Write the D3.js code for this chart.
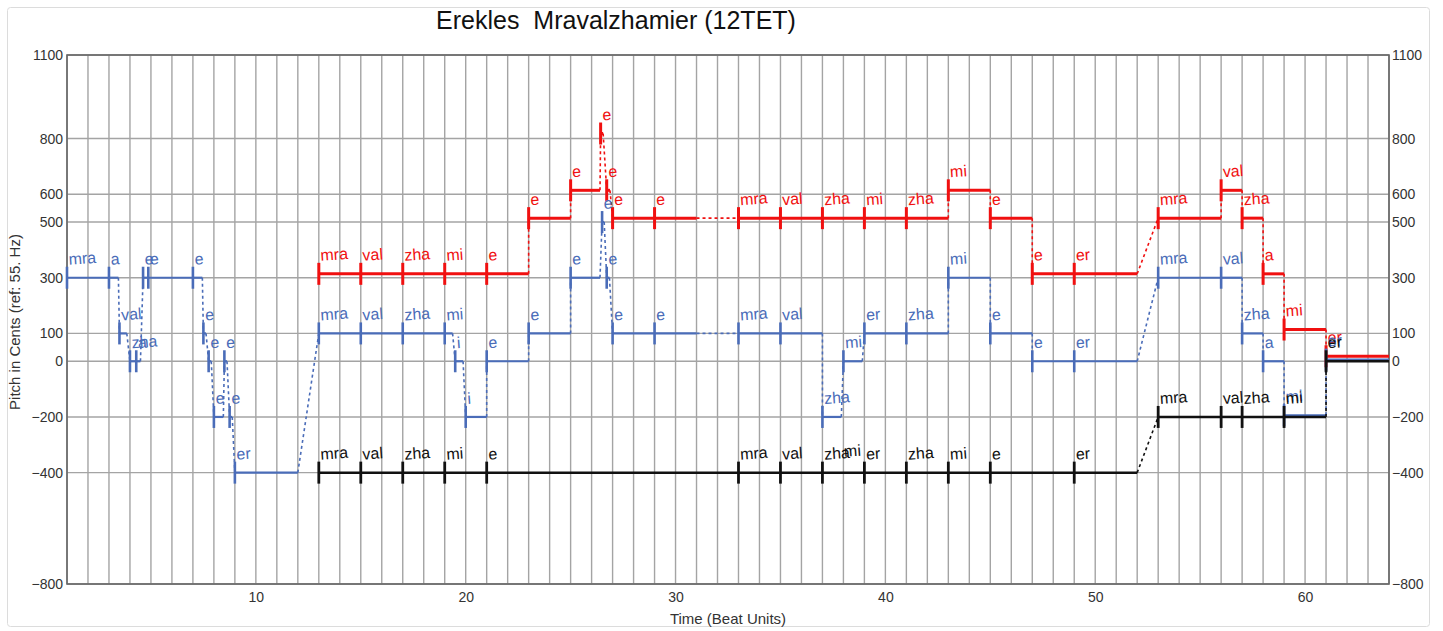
<!DOCTYPE html>
<html><head><meta charset="utf-8">
<script src="https://cdn.jsdelivr.net/npm/d3@7"></script>
<style>body{margin:0;background:#fff;} text{font-family:"Liberation Sans",Arial,sans-serif;}</style>
</head><body><svg id="c" width="1443" height="631"></svg>
<script>
const title = "Erekles  Mravalzhamier (12TET)";
const xLabel = "Time (Beat Units)";
const yLabel = "Pitch in Cents (ref: 55. Hz)";
const yTicks = [1100, 800, 600, 500, 300, 100, 0, -200, -400, -800];
const xTicks = [10, 20, 30, 40, 50, 60];
const beatRange = [1, 64];
const pitchRange = [-800, 1100];

// notes: [start beat, end beat, pitch in cents, syllable]
const blueNotes = [
  [1, 3, 300, "mra"], [3, 3.45, 300, "a"], [3.5, 3.85, 100, "val"],
  [4, 4.25, 0, "zha"], [4.3, 4.5, 0, "a"],
  [4.625, 4.85, 300, "e"], [4.875, 7, 300, "e"], [7, 7.45, 300, "e"],
  [7.5, 7.625, 100, "e"], [7.75, 7.875, 0, "e"], [8, 8.45, -200, "e"],
  [8.5, 8.625, 0, "e"], [8.75, 8.875, -200, "e"], [9, 12, -400, "er"],
  [13, 15, 100, "mra"], [15, 17, 100, "val"], [17, 19, 100, "zha"], [19, 19.375, 100, "mi"],
  [19.5, 19.875, 0, "i"], [20, 21, -200, "i"], [21, 23, 0, "e"], [23, 25, 100, "e"],
  [25, 26.4, 300, "e"], [26.5, 26.6, 500, "e"], [26.72, 26.85, 300, "e"],
  [27, 29, 100, "e"], [29, 31, 100, "e"], [33, 35, 100, "mra"], [35, 37, 100, "val"],
  [37, 37.9, -200, "zha"], [38, 38.9, 0, "mi"], [39, 41, 100, "er"], [41, 43, 100, "zha"],
  [43, 45, 300, "mi"], [45, 47, 100, "e"], [47, 49, 0, "e"], [49, 52, 0, "er"],
  [53, 56, 300, "mra"], [56, 57, 300, "val"], [57, 58, 100, "zha"], [58, 59, 0, "a"],
  [59, 61, -194, "mi"], [61, 64, 6, "er"]
];
const redNotes = [
  [13, 15, 314, "mra"], [15, 17, 314, "val"], [17, 19, 314, "zha"], [19, 21, 314, "mi"], [21, 23, 314, "e"],
  [23, 25, 514, "e"], [25, 26.4, 614, "e"], [26.43, 26.55, 818, "e"], [26.72, 26.875, 614, "e"],
  [27, 29, 514, "e"], [29, 31, 514, "e"], [33, 35, 514, "mra"], [35, 37, 514, "val"], [37, 39, 514, "zha"],
  [39, 41, 514, "mi"], [41, 43, 514, "zha"], [43, 45, 614, "mi"], [45, 47, 514, "e"],
  [47, 49, 314, "e"], [49, 52, 314, "er"], [53, 56, 514, "mra"], [56, 57, 614, "val"],
  [57, 58, 514, "zha"], [58, 59, 314, "a"], [59, 61, 114, "mi"], [61, 64, 18, "er"]
];
const blackNotes = [
  [13, 15, -400, "mra"], [15, 17, -400, "val"], [17, 19, -400, "zha"], [19, 21, -400, "mi"], [21, 33, -400, "e"],
  [33, 35, -400, "mra"], [35, 37, -400, "val"], [37, 39, -400, "zha"], [39, 41, -400, "er"],
  [41, 43, -400, "zha"], [43, 45, -400, "mi"], [45, 49, -400, "e"], [49, 52, -400, "er"],
  [53, 56, -200, "mra"], [56, 57, -200, "val"], [57, 59, -200, "zha"], [59, 61, -200, "mi"], [61, 64, 0, "er"]
];
const blackExtraLabels = [[37.95, -390, "mi"]];

const svg = d3.select("#c");
const L = 67, R = 1389, T = 55, B = 584;
const x = d3.scaleLinear().domain(beatRange).range([L, R]);
const y = d3.scaleLinear().domain(pitchRange).range([B, T]);

svg.append("rect").attr("x", 7.5).attr("y", 7.5).attr("width", 1422).attr("height", 619)
  .attr("rx", 3).attr("fill", "none").attr("stroke", "#dcdcdc");

// grid
const grid = svg.append("g").attr("stroke", "#a4a4a4").attr("stroke-width", 1.4);
grid.selectAll("line.v").data(d3.range(beatRange[0], beatRange[1] + 1)).join("line")
  .attr("x1", d => x(d)).attr("x2", d => x(d)).attr("y1", T).attr("y2", B);
grid.selectAll("line.h").data(yTicks).join("line")
  .attr("x1", L).attr("x2", R).attr("y1", d => y(d)).attr("y2", d => y(d));

svg.append("rect").attr("x", L).attr("y", T).attr("width", R - L).attr("height", B - T)
  .attr("fill", "none").attr("stroke", "#666").attr("stroke-width", 1.6);

const fmt = d => d < 0 ? "\u2212" + (-d) : String(d);
function styleAxis(g) {
  g.select(".domain").remove();
  g.selectAll("line").remove();
  g.selectAll("text").attr("font-size", 14).attr("fill", "#333")
    .attr("font-family", "'Liberation Sans', Arial, sans-serif");
}
svg.append("g").attr("transform", `translate(${L},0)`)
  .call(d3.axisLeft(y).tickValues(yTicks).tickSize(0).tickPadding(4).tickFormat(fmt)).call(styleAxis);
svg.append("g").attr("transform", `translate(${R},0)`)
  .call(d3.axisRight(y).tickValues(yTicks).tickSize(0).tickPadding(3).tickFormat(fmt)).call(styleAxis);
svg.append("g").attr("transform", `translate(0,${B})`)
  .call(d3.axisBottom(x).tickValues(xTicks).tickSize(0).tickPadding(8).tickFormat(d3.format("d"))).call(styleAxis);

svg.append("text").attr("x", 616).attr("y", 29).attr("text-anchor", "middle")
  .attr("font-size", 25).attr("fill", "#111").style("white-space", "pre").text(title);
svg.append("text").attr("x", 728).attr("y", 624).attr("text-anchor", "middle")
  .attr("font-size", 15).attr("fill", "#333").text(xLabel);
svg.append("text").attr("transform", "translate(20,322) rotate(-90)").attr("text-anchor", "middle")
  .attr("font-size", 15).attr("fill", "#333").text(yLabel);

function drawVoice(notes, color, lw, tw, dw, extra) {
  const gv = svg.append("g");
  const conns = [];
  for (let i = 0; i < notes.length - 1; i++) {
    const a = notes[i], b = notes[i + 1];
    if (a[1] !== b[0] || a[2] !== b[2]) conns.push([a, b]);
  }
  gv.selectAll("line.c").data(conns).join("line")
    .attr("x1", d => x(d[0][1])).attr("y1", d => y(d[0][2]))
    .attr("x2", d => x(d[1][0])).attr("y2", d => y(d[1][2]))
    .attr("stroke", color).attr("stroke-width", dw).attr("stroke-dasharray", "3,3");
  gv.selectAll("line.s").data(notes).join("line")
    .attr("x1", d => x(d[0])).attr("x2", d => x(d[1]))
    .attr("y1", d => y(d[2])).attr("y2", d => y(d[2]))
    .attr("stroke", color).attr("stroke-width", lw);
  gv.selectAll("line.t").data(notes).join("line")
    .attr("x1", d => x(d[0])).attr("x2", d => x(d[0]))
    .attr("y1", d => y(d[2]) - 11).attr("y2", d => y(d[2]) + 11)
    .attr("stroke", color).attr("stroke-width", tw);
  const labs = notes.map(d => [d[0], d[2], d[3]]).concat(extra || []);
  gv.selectAll("text").data(labs).join("text")
    .attr("transform", d => `translate(${x(d[0]) + 2},${y(d[1]) - 13}) rotate(-4)`)
    .attr("font-size", 16).attr("fill", color).text(d => d[2]);
}
drawVoice(redNotes, "#f01010", 3, 3, 1.6);
drawVoice(blueNotes, "#4a6cb8", 2.2, 2.6, 1.6);
drawVoice(blackNotes, "#111111", 2.5, 2.8, 1.6, blackExtraLabels);
</script></body></html>
